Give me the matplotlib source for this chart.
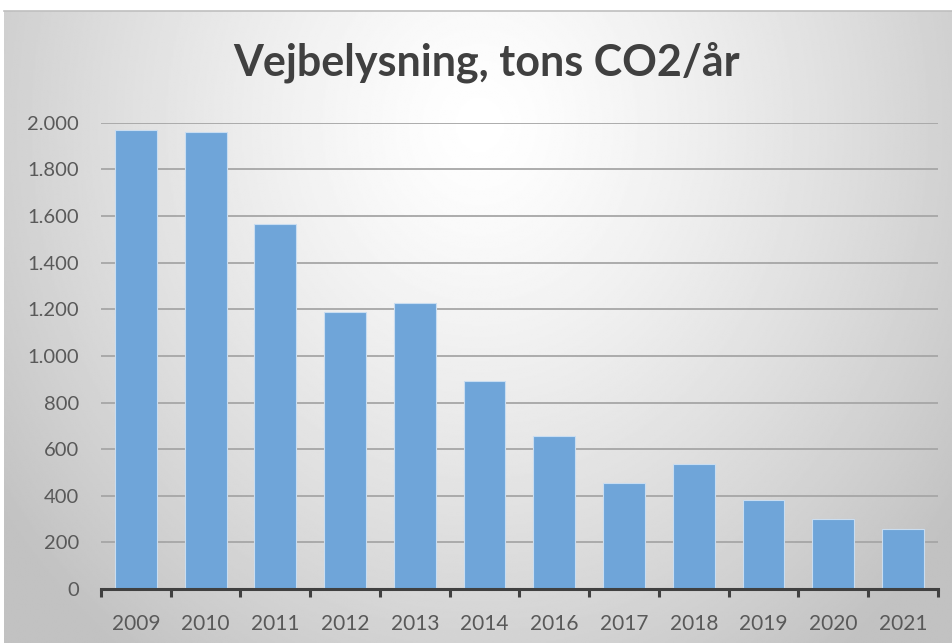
import numpy as np
import matplotlib
matplotlib.use("Agg")
import matplotlib.pyplot as plt
import matplotlib.ticker as mticker

years = ["2009", "2010", "2011", "2012", "2013", "2014",
         "2016", "2017", "2018", "2019", "2020", "2021"]
co2_tons = [1970, 1960, 1565, 1190, 1228, 893, 657, 455, 536, 383, 300, 258]
y_ticks = [0, 200, 400, 600, 800, 1000, 1200, 1400, 1600, 1800, 2000]

BAR_COLOR = "#6fa5d9"
TEXT_COLOR = "#595959"

plt.rcParams["font.family"] = ["Lato", "DejaVu Sans"]

fig = plt.figure(figsize=(9.53, 6.43), dpi=100)

# radial gradient background (chart area, below a thin white strip)
bg = fig.add_axes([0.004, 0, 0.996, 0.983])
bg.set_axis_off()
h, w = 400, 600
yy, xx = np.mgrid[0:h, 0:w]
r = np.sqrt(((xx - w * 0.5) / (w * 0.62)) ** 2 + ((yy - h * 0.18) / (h * 1.05)) ** 2)
shade = 1 - 0.24 * np.clip(r, 0, 1) ** 1.3
bg.imshow(shade, cmap="gray", vmin=0, vmax=1, aspect="auto",
          extent=[0, 1, 0, 1], interpolation="bilinear")
fig.add_artist(plt.Line2D([0.004, 1], [0.983, 0.983], color="#bfbfbf", lw=1.2))

ax = fig.add_axes([0.106, 0.084, 0.878, 0.725])
ax.set_facecolor("none")
x = np.arange(len(years))
ax.bar(x, co2_tons, width=0.6, color=BAR_COLOR, edgecolor="#c9ddf1",
       linewidth=0.8, zorder=3)

ax.set_xlim(-0.5, len(years) - 0.5)
ax.set_ylim(0, 2000)
ax.set_yticks(y_ticks)
ax.yaxis.set_major_formatter(
    mticker.FuncFormatter(lambda v, _: f"{int(v):,}".replace(",", "."))
)
ax.grid(axis="y", color="#a6a6a6", lw=1.3, zorder=0)
ax.tick_params(axis="y", length=0, pad=16, labelsize=14.5, labelcolor=TEXT_COLOR)

ax.set_xticks(x)
ax.set_xticklabels(years)
ax.tick_params(axis="x", which="major", length=0, pad=18,
               labelsize=15, labelcolor=TEXT_COLOR)
ax.set_xticks(np.arange(-0.5, len(years)), minor=True)
ax.tick_params(axis="x", which="minor", length=6, width=2.2, color="#404040")

for side in ["left", "right", "top"]:
    ax.spines[side].set_visible(False)
ax.spines["bottom"].set_color("#404040")
ax.spines["bottom"].set_linewidth(2.2)
ax.spines["bottom"].set_zorder(4)

fig.text(0.511, 0.903, "Vejbelysning, tons CO2/år", ha="center", va="center",
         fontsize=31, fontweight="bold", color="#404040")

fig.savefig("out.png", dpi=100)
